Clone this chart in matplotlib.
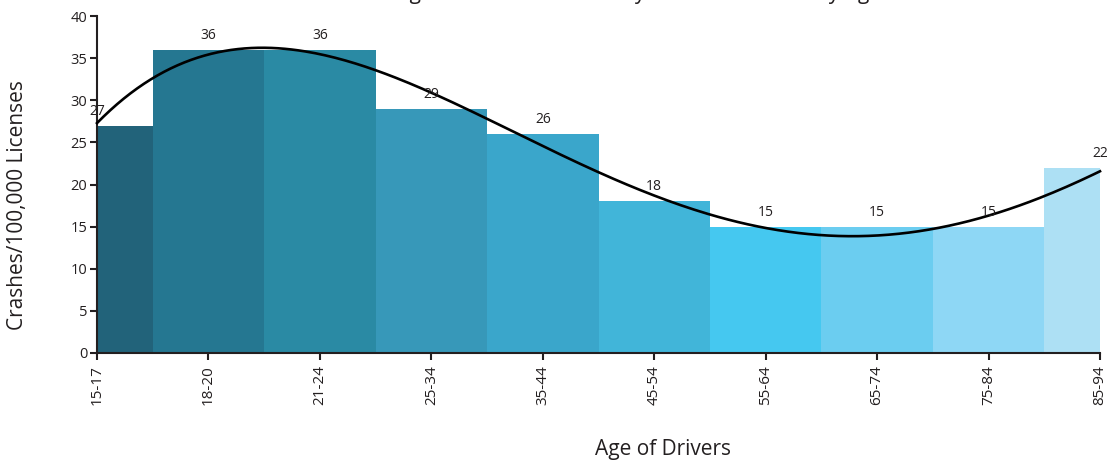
import numpy as np
import matplotlib
matplotlib.use("Agg")
import matplotlib.pyplot as plt

plt.rcParams['font.family'] = ['Open Sans', 'DejaVu Sans']

# data
age_groups = ["15-17", "18-20", "21-24", "25-34", "35-44", "45-54", "55-64", "65-74", "75-84", "85-94"]
crash_rate = [27, 36, 36, 29, 26, 18, 15, 15, 15, 22]
bar_colors = ["#22637A", "#257791", "#2A8AA4", "#3798B9", "#3AA6CB",
              "#41B5D9", "#45C8F0", "#6BCDF0", "#8ED7F5", "#ADE0F4"]

x = np.arange(len(age_groups))

fig = plt.figure(figsize=(11.11, 4.63), dpi=100)
ax = fig.add_axes([97/1111, 1 - 353/463, (1100-97)/1111, (353-16)/463])

ax.bar(x, crash_rate, width=1.0, color=bar_colors, linewidth=0, zorder=1)

# polynomial trendline through the values
coef = np.polyfit(x, crash_rate, 4)
xs = np.linspace(0, len(x) - 1, 300)
ax.plot(xs, np.polyval(coef, xs), color="black", lw=1.9, zorder=3, clip_on=False)

for xi, v in zip(x, crash_rate):
    ax.annotate(str(v), (xi, v), xytext=(0, 5), textcoords="offset points",
                ha="center", va="bottom", fontsize=10, color="#231f20")

ax.set_xlim(0, len(x) - 1)
ax.set_ylim(0, 40)
ax.set_yticks(range(0, 41, 5))
ax.set_xticks(x)
ax.set_xticklabels(age_groups, rotation=90)
ax.tick_params(axis="both", direction="out", length=5, width=1.5, color="#231f20",
               labelsize=10.5, labelcolor="#231f20")
ax.tick_params(axis="x", labelsize=11)
ax.tick_params(axis="y", pad=2)
for s in ["top", "right"]:
    ax.spines[s].set_visible(False)
for s in ["left", "bottom"]:
    ax.spines[s].set_linewidth(1.5)
    ax.spines[s].set_color("#231f20")

ax.set_xlabel("Age of Drivers", fontsize=15, color="#231f20", va="center")
ax.set_ylabel("Crashes/100,000 Licenses", fontsize=15, color="#231f20", va="center")
ax.xaxis.set_label_coords((663 - 97) / 1003, -(449 - 353) / 337)
ax.yaxis.set_label_coords((18 - 97) / 1003, (353 - 205) / 337)

# title is cut off at the top edge in the original, only descenders show
fig.text(0.556, 1.0 + 1/463, "Average Annual Crash Rate by Licensed Drivers by Age",
         ha="center", va="baseline", fontsize=15, color="#231f20")

fig.savefig("out.png", dpi=100)
